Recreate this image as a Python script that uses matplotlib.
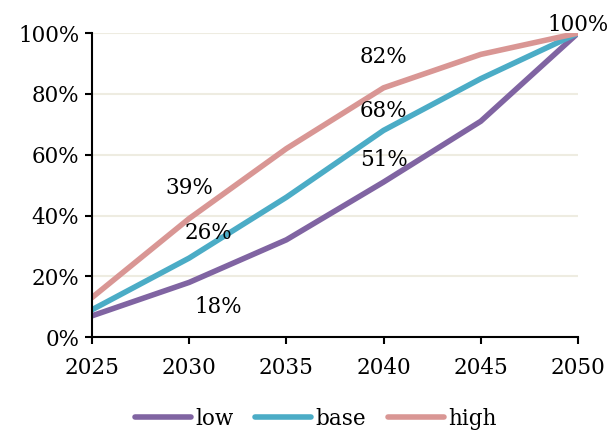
import matplotlib.pyplot as plt
from matplotlib.ticker import PercentFormatter

years = [2025, 2030, 2035, 2040, 2045, 2050]
low = [7, 18, 32, 51, 71, 100]
base = [9, 26, 46, 68, 85, 100]
high = [13, 39, 62, 82, 93, 100]

colors = {"low": "#8064a2", "base": "#4bacc6", "high": "#d99694"}

plt.rcParams['font.family'] = ['DejaVu Serif']
plt.rcParams['font.size'] = 15.5

fig = plt.figure(figsize=(6.09, 4.30), dpi=100)
ax = fig.add_axes([0.151, 0.216, 0.798, 0.707])

for name, vals in [("low", low), ("base", base), ("high", high)]:
    ax.plot(years, vals, color=colors[name], linewidth=4,
            solid_capstyle='round', solid_joinstyle='round', label=name)

# value labels, offsets in points
labels = [
    (high, 1, (0, 22)),
    (base, 1, (14, 18)),
    (low, 1, (21, -18)),
    (high, 3, (0, 22)),
    (base, 3, (0, 14)),
    (low, 3, (0, 16)),
    (high, 5, (0, 6)),
]
for series, i, off in labels:
    ax.annotate(f"{series[i]}%", (years[i], series[i]), xytext=off,
                textcoords='offset points', ha='center', va='center')

ax.set_xlim(2025, 2050)
ax.set_ylim(0, 100)
ax.set_xticks(years)
ax.set_yticks(range(0, 101, 20))
ax.yaxis.set_major_formatter(PercentFormatter(decimals=0))

ax.grid(axis='y', color='#eeece1', linewidth=1.5)
ax.set_axisbelow(True)
for s in ['top', 'right']:
    ax.spines[s].set_visible(False)
for s in ['left', 'bottom']:
    ax.spines[s].set_linewidth(1.5)
ax.tick_params(direction='out', length=5, width=1.5, pad=4)
ax.tick_params(axis='x', pad=9)

fig.legend(loc='center', bbox_to_anchor=(0.519, 0.026), ncol=3, frameon=False,
           handlelength=2.6, handletextpad=0.2, columnspacing=1.0)

fig.savefig('out.png', dpi=100)
